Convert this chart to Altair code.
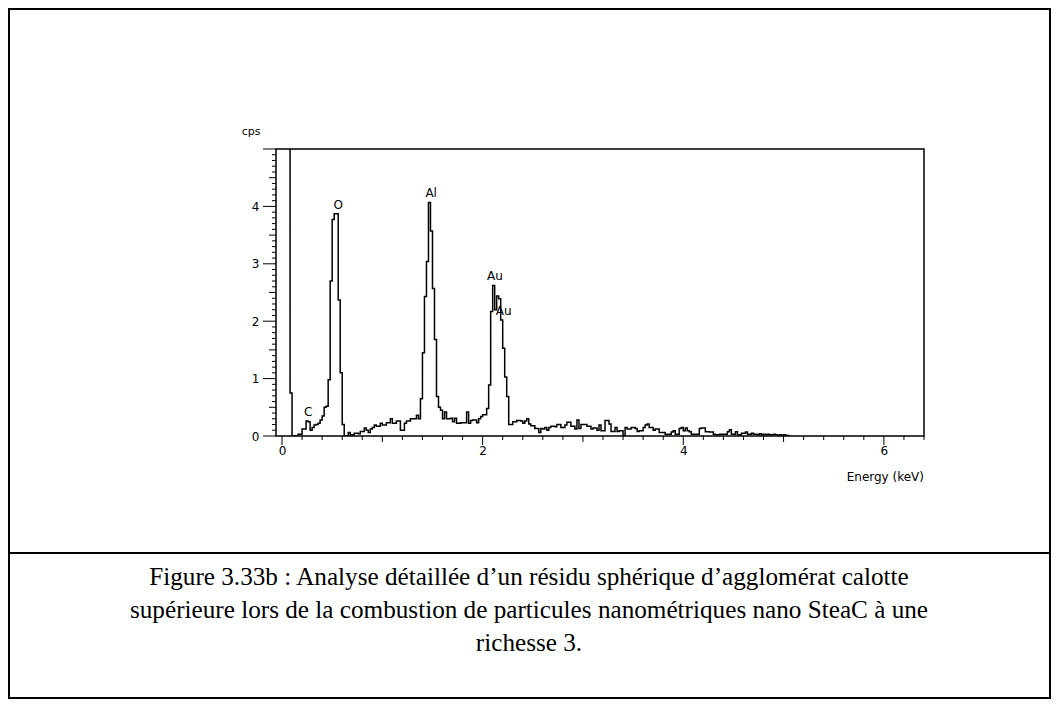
import altair as alt
import pandas as pd

# ---------------- data (0.02 keV channels) ----------------
E_START = 0.06
CHANNEL = 0.02

counts_low = [6.0, 0.75, 0.0, 0.0, 0.0, 0.03, 0.03, 0.12, 0.12, 0.26,
              0.25, 0.10, 0.15, 0.19, 0.20, 0.22, 0.28, 0.35, 0.50, 0.52,
              0.98, 2.70, 3.77, 3.87, 3.87, 2.37, 1.10, 0.20]          # 0.06 - 0.60
counts_mid = [0.0, 0.0, 0.06, 0.02, 0.02, 0.05, 0.05, 0.04, 0.08, 0.08,
              0.14, 0.10, 0.06, 0.12, 0.15, 0.19, 0.17, 0.17, 0.22, 0.19,
              0.19, 0.23, 0.23, 0.30, 0.22, 0.22, 0.26, 0.26, 0.10, 0.10,
              0.22, 0.26, 0.26, 0.30, 0.30, 0.30, 0.36, 0.30]          # 0.62 - 1.36
counts_al_au = [0.65, 1.45, 2.43, 3.04, 4.07, 3.57, 2.57, 1.68, 0.69, 0.50,
                0.45, 0.30, 0.42, 0.30, 0.30, 0.31, 0.25, 0.31, 0.22, 0.22,
                0.23, 0.23, 0.23, 0.42, 0.22, 0.27, 0.28, 0.28, 0.23, 0.30,
                0.34, 0.37, 0.37, 0.48, 0.89, 2.17, 2.62, 2.20, 2.44, 2.39,
                2.02, 1.53, 1.03, 0.69, 0.20]                           # 1.38 - 2.26
counts_tail1 = [0.20, 0.25, 0.25, 0.27, 0.27, 0.26, 0.22, 0.26, 0.30, 0.21,
                0.18, 0.18, 0.13, 0.13, 0.06, 0.13, 0.12, 0.15, 0.10, 0.15]  # 2.28 - 2.66
counts_tail2 = [0.17, 0.17, 0.16, 0.20, 0.20, 0.15, 0.15, 0.19, 0.24, 0.24,
                0.17, 0.17, 0.12, 0.28, 0.13, 0.20, 0.20, 0.20, 0.17, 0.17,
                0.12, 0.14, 0.14, 0.10, 0.19, 0.09, 0.09, 0.27, 0.27, 0.21,
                0.08, 0.08, 0.15, 0.08, 0.09, 0.09, 0.01, 0.15, 0.12, 0.12,
                0.15, 0.15, 0.13, 0.08, 0.09, 0.09, 0.15, 0.19, 0.21, 0.15,
                0.15, 0.10, 0.12, 0.12, 0.06, 0.06, 0.06, 0.03, 0.03, 0.03]  # 2.68 - 3.86
counts_tail3 = [0.07, 0.09, 0.03, 0.03, 0.13, 0.15, 0.09, 0.14, 0.09, 0.075,
                0.03, 0.03, 0.03, 0.03, 0.13, 0.14, 0.14, 0.075, 0.075, 0.07,
                0.07, 0.03, 0.02, 0.02, 0.03, 0.03, 0.03, 0.03, 0.075, 0.11,
                0.03, 0.03, 0.075, 0.02, 0.02, 0.05, 0.05, 0.07, 0.03, 0.03,
                0.05, 0.03, 0.03, 0.02, 0.04, 0.02, 0.03, 0.02, 0.03, 0.02,
                0.02, 0.03, 0.02, 0.01, 0.02, 0.01, 0.02, 0.01, 0.01]        # 3.88 - 5.04

peak_names = ["C", "O", "Al", "Au", "Au"]
peak_energy = [0.26, 0.56, 1.487, 2.123, 2.21]
peak_height = [0.41, 4.02, 4.23, 2.79, 2.18]

x_labels = [0, 2, 4, 6]
y_labels = [0, 1, 2, 3, 4]
x_ticks_even = [0, 2, 4, 6]
x_ticks_odd = [1, 3, 5]
x_ticks_minor = [round(0.2 * i, 1) for i in range(33) if i % 5 != 0]
y_ticks_major = [0, 1, 2, 3, 4, 5]
y_ticks_half = [0.5, 1.5, 2.5, 3.5, 4.5]
y_ticks_minor = [round(0.1 * i, 1) for i in range(51) if i % 5 != 0]

caption = ("Figure 3.33b : Analyse détaillée d’un résidu sphérique d’agglomérat calotte\n"
           "supérieure lors de la combustion de particules nanométriques nano SteaC à une\n"
           "richesse 3.")

# ---------------- build ----------------
counts = counts_low + counts_mid + counts_al_au + counts_tail1 + counts_tail2 + counts_tail3
energy = [round(E_START + i * CHANNEL, 2) for i in range(len(counts))]
energy.append(round(E_START + len(counts) * CHANNEL, 2))
vals = counts + [counts[-1]]
spec = pd.DataFrame({"energy": energy, "cps": vals})

W, H = 648, 287
FONT = "DejaVu Sans"
xs = alt.Scale(domain=[-0.06, 6.40], nice=False, zero=False)
ys = alt.Scale(domain=[0, 5], nice=False, zero=False)
AX_X = alt.Axis(values=x_labels, title=None, ticks=False, tickSize=0, domain=False, grid=False,
                labelPadding=9, labelFontSize=12, labelFont=FONT, labelColor="black", format="d")
AX_Y = alt.Axis(values=y_labels, title=None, ticks=False, tickSize=0, domain=False, grid=False,
                labelPadding=17, labelFontSize=12, labelFont=FONT, labelColor="black", format="d")

line = alt.Chart(spec).mark_line(
    interpolate="step-after", color="black", strokeWidth=1.5, clip=True
).encode(
    x=alt.X("energy:Q", scale=xs, axis=AX_X),
    y=alt.Y("cps:Q", scale=ys, axis=AX_Y),
)

def xtick(vals_, length):
    return alt.Chart(pd.DataFrame({"t": vals_})).mark_rule(color="black", strokeWidth=1).encode(
        x=alt.X("t:Q", scale=xs, axis=AX_X),
        y=alt.value(H), y2=alt.value(H + length))

def ytick(vals_, length):
    return alt.Chart(pd.DataFrame({"t": vals_})).mark_rule(color="black", strokeWidth=1).encode(
        y=alt.Y("t:Q", scale=ys, axis=AX_Y),
        x=alt.value(0), x2=alt.value(-length))

peaks = alt.Chart(pd.DataFrame({"name": peak_names, "e": peak_energy, "h": peak_height})).mark_text(
    font=FONT, fontSize=12, color="black", align="center", baseline="middle"
).encode(
    x=alt.X("e:Q", scale=xs, axis=AX_X),
    y=alt.Y("h:Q", scale=ys, axis=AX_Y),
    text="name:N")

one = pd.DataFrame({"d": [0]})
cps_lbl = alt.Chart(one).mark_text(font=FONT, fontSize=11, color="black", align="center",
                                   baseline="middle").encode(
    x=alt.value(-25), y=alt.value(-17), text=alt.value("cps"))
energy_lbl = alt.Chart(one).mark_text(font=FONT, fontSize=12, color="black", align="right",
                                      baseline="middle").encode(
    x=alt.value(W), y=alt.value(328), text=alt.value("Energy (keV)"))

frame = alt.Chart(one).mark_rect(fillOpacity=0, stroke="black", strokeWidth=2).encode(
    x=alt.value(-267), x2=alt.value(774), y=alt.value(-140), y2=alt.value(549))
separator = alt.Chart(one).mark_rule(color="black", strokeWidth=2).encode(
    x=alt.value(-267), x2=alt.value(774), y=alt.value(404))
cap = alt.Chart(one).mark_text(font="Liberation Serif", fontSize=25.2, color="black",
                               align="center", baseline="alphabetic", lineBreak="\n",
                               lineHeight=33).encode(
    x=alt.value(253), y=alt.value(436), text=alt.value(caption))

chart = alt.layer(
    line,
    xtick(x_ticks_even, 9), xtick(x_ticks_odd, 6), xtick(x_ticks_minor, 4),
    ytick(y_ticks_major, 13), ytick(y_ticks_half, 7), ytick(y_ticks_minor, 4),
    peaks, cps_lbl, energy_lbl, frame, separator, cap,
).properties(
    width=W, height=H,
    autosize=alt.AutoSizeParams(type="none"),
    padding={"left": 268, "top": 141, "right": 127, "bottom": 263},
    background="white",
).configure_view(stroke="black", strokeWidth=1.5)

chart.save("out.html", embed_options={"renderer": "svg", "actions": False})
